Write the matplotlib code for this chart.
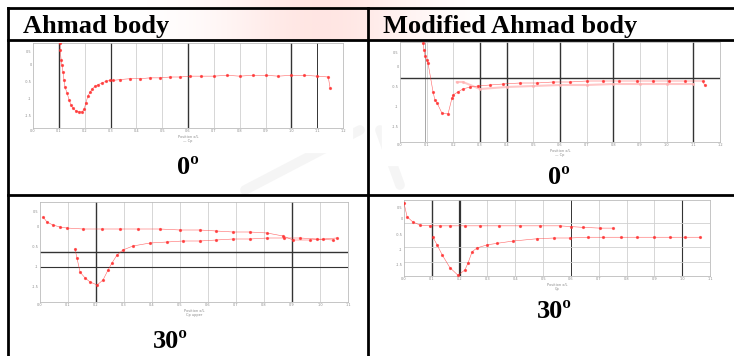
import numpy as np
import matplotlib
matplotlib.use("Agg")
import matplotlib.pyplot as plt

W, H = 734, 356

headers = ["Ahmad body", "Modified Ahmad body"]
angle_labels = ["0º", "0º", "30º", "30º"]

# Ahmad body, 0 deg
tl_x = [1.05, 1.05, 1.09, 1.12, 1.16, 1.20, 1.24, 1.32, 1.40, 1.47, 1.55, 1.67, 1.78, 1.90, 1.98,
        2.05, 2.13, 2.21, 2.29, 2.40, 2.52, 2.67, 2.83, 2.98, 3.10, 3.37, 3.76, 4.15, 4.53, 4.92,
        5.31, 5.70, 6.09, 6.5, 7.0, 7.5, 8.0, 8.5, 9.0, 9.5, 10.0, 10.5, 11.0, 11.43, 11.5]
tl_y = [1.00, 0.92, 0.80, 0.74, 0.66, 0.56, 0.48, 0.41, 0.33, 0.27, 0.23, 0.20, 0.19, 0.19, 0.22,
        0.30, 0.38, 0.42, 0.46, 0.49, 0.51, 0.53, 0.55, 0.56, 0.56, 0.57, 0.58, 0.58, 0.59, 0.59,
        0.60, 0.60, 0.61, 0.61, 0.61, 0.62, 0.61, 0.62, 0.62, 0.61, 0.62, 0.62, 0.61, 0.60, 0.47]

# Modified Ahmad body, 0 deg
tr_x = [0.86, 0.90, 0.94, 1.00, 1.05, 1.24, 1.31, 1.39, 1.57, 1.80, 1.95, 1.99, 2.17, 2.36, 2.62,
        2.92, 3.37, 3.86, 4.49, 5.13, 5.73, 6.37, 7.00, 7.60, 8.20, 8.88, 9.50, 10.1, 10.7, 11.35, 11.42]
tr_y = [0.99, 0.92, 0.86, 0.82, 0.79, 0.50, 0.42, 0.39, 0.29, 0.28, 0.44, 0.47, 0.50, 0.53, 0.55,
        0.56, 0.57, 0.58, 0.59, 0.59, 0.60, 0.60, 0.61, 0.61, 0.61, 0.61, 0.61, 0.61, 0.61, 0.61, 0.57]
tr_x2 = [2.13, 2.36, 3.0, 4.0, 5.0, 6.0, 7.0, 8.0, 9.0, 10.0, 11.0]
tr_y2 = [0.60, 0.60, 0.53, 0.55, 0.56, 0.57, 0.57, 0.58, 0.58, 0.58, 0.58]

# Ahmad body, 30 deg
bl_up_x = [0.11, 0.25, 0.46, 0.71, 0.96, 1.54, 2.2, 2.86, 3.5, 4.29, 5.0, 5.71, 6.3, 6.89, 7.5,
           8.11, 8.68, 9.04, 9.64, 10.1, 10.6]
bl_up_y = [0.85, 0.80, 0.77, 0.75, 0.74, 0.73, 0.73, 0.73, 0.73, 0.73, 0.72, 0.72, 0.71, 0.70, 0.70,
           0.69, 0.66, 0.62, 0.62, 0.63, 0.64]
bl_lo_x = [1.25, 1.32, 1.43, 1.61, 1.79, 2.04, 2.25, 2.43, 2.57, 2.75, 2.96, 3.32, 3.93, 4.54,
           5.1, 5.71, 6.3, 6.89, 7.5, 8.11, 8.7, 9.29, 9.9, 10.46]
bl_lo_y = [0.53, 0.44, 0.30, 0.24, 0.20, 0.17, 0.22, 0.32, 0.39, 0.47, 0.52, 0.56, 0.59, 0.60,
           0.61, 0.61, 0.62, 0.63, 0.63, 0.64, 0.64, 0.64, 0.63, 0.62]

# Modified Ahmad body, 30 deg
br_up_x = [0.0, 0.11, 0.32, 0.58, 0.94, 1.3, 1.65, 2.2, 2.73, 3.4, 4.17, 4.9, 5.61, 6.0, 6.44,
           7.05, 7.52]
br_up_y = [0.96, 0.78, 0.71, 0.67, 0.66, 0.66, 0.66, 0.66, 0.66, 0.66, 0.66, 0.66, 0.66, 0.65, 0.64,
           0.63, 0.63]
br_lo_x = [1.04, 1.19, 1.37, 1.65, 1.94, 2.19, 2.30, 2.45, 2.63, 2.99, 3.35, 3.92, 4.78, 5.4,
           5.97, 6.6, 7.16, 7.8, 8.38, 9.0, 9.57, 10.1, 10.65]
br_lo_y = [0.51, 0.41, 0.28, 0.11, 0.01, 0.08, 0.17, 0.32, 0.37, 0.41, 0.43, 0.46, 0.49, 0.50,
           0.50, 0.51, 0.51, 0.51, 0.51, 0.51, 0.51, 0.51, 0.51]

fig = plt.figure(figsize=(W / 100, H / 100), dpi=100)
bg = fig.add_axes([0, 0, 1, 1])
bg.set_xlim(0, W)
bg.set_ylim(H, 0)
bg.axis("off")

# watermark: pink wash in the header and faint grey strokes
grad = np.exp(-((np.linspace(0, 1, 200) - 0.55) / 0.3) ** 2)
rgba = np.zeros((1, 200, 4))
rgba[..., 0] = 1.0
rgba[..., 1] = 0.82
rgba[..., 2] = 0.80
rgba[..., 3] = grad * 0.55
bg.imshow(rgba, extent=(140, 470, 40, 0), aspect="auto", zorder=0)
for (x0, y0, x1, y1) in [(245, 190, 360, 130), (380, 130, 400, 185),
                         (600, 120, 700, 60), (290, 250, 330, 200)]:
    bg.plot([x0, x1], [y0, y1], color="#b0b0b0", lw=7, alpha=0.12, solid_capstyle="round", zorder=0)

# table grid
lk = dict(color="black", lw=2, zorder=5)
bg.plot([8, W], [8, 8], **lk)
bg.plot([8, W], [40, 40], **lk)
bg.plot([8, W], [195, 195], **lk)
bg.plot([8, 8], [8, H], **lk)
bg.plot([368, 368], [8, H], **lk)

serif = ["Liberation Serif", "DejaVu Serif"]
bg.text(23, 33, headers[0], fontsize=19, fontweight="bold", family=serif, zorder=6)
bg.text(383, 33, headers[1], fontsize=19, fontweight="bold", family=serif, zorder=6)
for (cx, cy), lab in zip([(188, 168), (559, 178), (170, 342), (554, 311)], angle_labels):
    bg.text(cx, cy, lab, fontsize=19, fontweight="bold", family=serif, ha="center", va="center", zorder=6)


def make_axes(x0, y0, x1, y1, img):
    # white picture behind the chart
    ix0, iy0, ix1, iy1 = img
    bg.add_patch(plt.Rectangle((ix0, iy0), ix1 - ix0, iy1 - iy0, color="white", zorder=1))
    ax = fig.add_axes([x0 / W, 1 - y1 / H, (x1 - x0) / W, (y1 - y0) / H])
    ax.patch.set_alpha(0)
    for s in ax.spines.values():
        s.set_color("#bbbbbb")
        s.set_linewidth(0.6)
    ax.tick_params(length=0, labelsize=2.5, labelcolor="#888888", pad=1)
    return ax


def vgrid(ax, n, dark):
    for i in range(1, n + 1):
        if i in dark:
            ax.axvline(i, color="#333333", lw=dark[i], zorder=1)
        else:
            ax.axvline(i, color="#d0d0d0", lw=0.6, zorder=1)


def finish(ax, n, xlab):
    ax.set_xlim(0, n)
    ax.set_ylim(0, 1.0)
    ax.set_xticks(range(n + 1))
    ax.set_xticklabels(["%.1f" % (i / 10) for i in range(n + 1)])
    ax.set_yticks([0.15, 0.35, 0.55, 0.75, 0.9])
    ax.set_yticklabels(["-1.5", "-1", "-0.5", "0", "0.5"])
    ax.set_xlabel(xlab, fontsize=2.5, color="#888888", labelpad=1)


red = "#ff3030"
pts = dict(color=red, marker="o", ms=1.3, lw=0.4, alpha=0.75, zorder=3)

# top-left
ax = make_axes(33, 43, 343, 128, (22, 41, 352, 152))
vgrid(ax, 12, {1: 1.0, 3: 0.9, 6: 1.0, 10: 1.0, 11: 0.7})
ax.plot(tl_x, tl_y, **pts)
finish(ax, 12, "Position x/L\n— Cp")

# top-right
ax = make_axes(400, 42, 720, 142, (382, 41, 733, 165))
vgrid(ax, 12, {3: 1.0, 4: 1.0, 6: 1.0, 8: 1.0, 11: 1.0})
ax.axvline(0.94, color="#999999", lw=0.6, zorder=1)
ax.axhline(0.64, color="#333333", lw=1.0, zorder=2)
ax.plot(tr_x2, tr_y2, color="#ffb0b0", marker="o", ms=1.2, lw=1.5, alpha=0.7, zorder=2)
ax.plot(tr_x, tr_y, **pts)
finish(ax, 12, "Position x/L\n— Cp")

# bottom-left
ax = make_axes(40, 202, 348, 302, (22, 197, 352, 330))
vgrid(ax, 11, {2: 1.0, 9: 1.0})
ax.axhline(0.50, color="#333333", lw=1.0, zorder=2)
ax.axhline(0.35, color="#333333", lw=0.8, zorder=2)
ax.plot(bl_up_x, bl_up_y, **pts)
ax.plot(bl_lo_x, bl_lo_y, **pts)
finish(ax, 11, "Position x/L\nCp upper")

# bottom-right
ax = make_axes(404, 200, 710, 276, (385, 197, 733, 295))
vgrid(ax, 11, {1: 1.0, 2: 1.6, 6: 0.7, 10: 0.8})
for yy in [0.70, 0.38, 0.18]:
    ax.axhline(yy, color="#d0d0d0", lw=0.6, zorder=1)
ax.plot(br_up_x, br_up_y, **pts)
ax.plot(br_lo_x, br_lo_y, **pts)
finish(ax, 11, "Position x/L\nCp")

fig.savefig("out.png", dpi=100)
